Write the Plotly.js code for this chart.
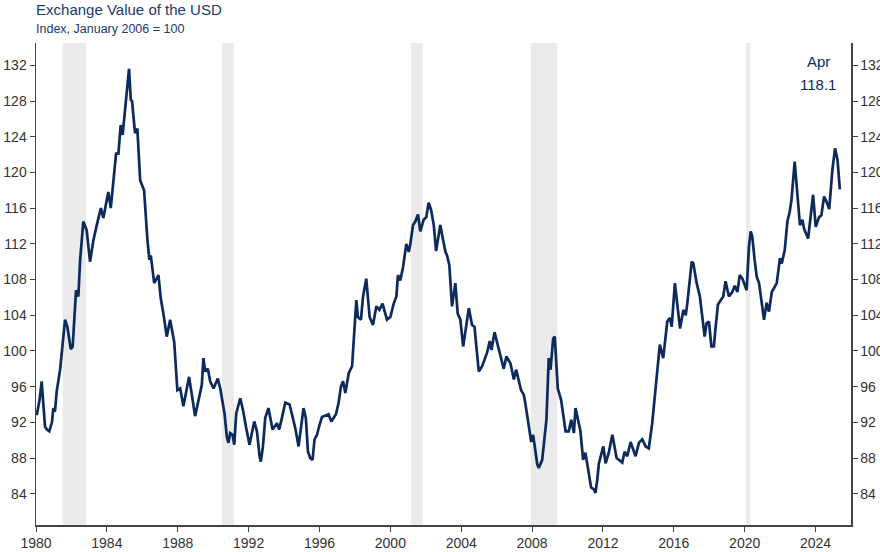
<!DOCTYPE html>
<html>
<head>
<meta charset="utf-8">
<script src="https://cdn.plot.ly/plotly-3.0.1.min.js"></script>
<style>
  html, body { margin: 0; padding: 0; background: #fff; }
  #chart { width: 880px; height: 552px; }
</style>
</head>
<body>
<div id="chart"></div>
<script>
// decimal year of each reading
var dates = [
  1980.04, 1980.20, 1980.32, 1980.51, 1980.62, 1980.75, 1980.90, 1980.98, 1981.07, 1981.17,
  1981.36, 1981.64, 1981.77, 1981.96, 1982.07, 1982.26, 1982.39, 1982.49, 1982.67, 1982.86,
  1983.05, 1983.24, 1983.43, 1983.66, 1983.80, 1983.90, 1984.08, 1984.22, 1984.37, 1984.52,
  1984.65, 1984.78, 1984.89, 1985.12, 1985.25, 1985.35, 1985.42, 1985.59, 1985.72, 1985.88,
  1986.10, 1986.29, 1986.40, 1986.48, 1986.67, 1986.91, 1987.04, 1987.19, 1987.38, 1987.57,
  1987.80, 1987.98, 1988.14, 1988.32, 1988.64, 1988.98, 1989.17, 1989.36, 1989.45, 1989.55,
  1989.70, 1989.83, 1990.02, 1990.26, 1990.40, 1990.64, 1990.77, 1990.86, 1990.96, 1991.09,
  1991.19, 1991.30, 1991.53, 1991.68, 1991.86, 1992.05, 1992.32, 1992.47, 1992.62, 1992.69,
  1992.81, 1992.94, 1993.12, 1993.35, 1993.60, 1993.73, 1993.88, 1994.07, 1994.31, 1994.44,
  1994.63, 1994.82, 1995.10, 1995.23, 1995.35, 1995.48, 1995.61, 1995.72, 1995.86, 1996.00,
  1996.14, 1996.51, 1996.67, 1996.93, 1997.08, 1997.21, 1997.33, 1997.46, 1997.65, 1997.84,
  1998.08, 1998.17, 1998.34, 1998.46, 1998.64, 1998.83, 1999.02, 1999.21, 1999.38, 1999.56,
  1999.81, 2000.00, 2000.19, 2000.34, 2000.43, 2000.56, 2000.72, 2000.90, 2001.04, 2001.13,
  2001.28, 2001.41, 2001.56, 2001.69, 2001.88, 2002.03, 2002.16, 2002.30, 2002.45, 2002.58,
  2002.82, 2002.98, 2003.11, 2003.20, 2003.33, 2003.48, 2003.67, 2003.80, 2003.95, 2004.11,
  2004.43, 2004.61, 2004.75, 2004.99, 2005.18, 2005.46, 2005.61, 2005.71, 2005.88, 2006.12,
  2006.40, 2006.55, 2006.78, 2006.97, 2007.10, 2007.38, 2007.53, 2007.63, 2007.95, 2008.06,
  2008.29, 2008.38, 2008.57, 2008.81, 2008.94, 2009.04, 2009.19, 2009.28, 2009.45, 2009.64,
  2009.89, 2010.07, 2010.21, 2010.36, 2010.45, 2010.73, 2010.88, 2011.01, 2011.20, 2011.33,
  2011.49, 2011.58, 2011.68, 2011.77, 2012.02, 2012.15, 2012.33, 2012.53, 2012.77, 2013.09,
  2013.22, 2013.37, 2013.56, 2013.84, 2014.03, 2014.22, 2014.41, 2014.59, 2014.78, 2014.97,
  2015.21, 2015.40, 2015.63, 2015.78, 2015.88, 2016.06, 2016.20, 2016.35, 2016.54, 2016.67,
  2016.76, 2017.01, 2017.10, 2017.29, 2017.47, 2017.61, 2017.74, 2017.85, 2017.98, 2018.12,
  2018.26, 2018.36, 2018.49, 2018.79, 2018.92, 2019.11, 2019.30, 2019.44, 2019.59, 2019.72,
  2019.87, 2020.11, 2020.24, 2020.34, 2020.43, 2020.56, 2020.68, 2020.81, 2020.94, 2021.09,
  2021.24, 2021.37, 2021.53, 2021.66, 2021.81, 2021.99, 2022.09, 2022.26, 2022.41, 2022.54,
  2022.64, 2022.82, 2022.98, 2023.12, 2023.26, 2023.35, 2023.58, 2023.73, 2023.86, 2024.01,
  2024.20, 2024.33, 2024.48, 2024.62, 2024.77, 2024.95, 2025.10, 2025.24, 2025.37
];

// USD index, Jan 2006 = 100
var usd_index = [
  92.8, 94.5, 96.6, 91.5, 91.2, 91.0, 92.0, 93.6, 93.2, 95.5,
  97.9, 103.5, 102.7, 100.2, 100.5, 106.8, 106.1, 110.2, 114.5, 113.5,
  110.0, 112.4, 114.1, 116.0, 114.9, 116.0, 117.8, 116.0, 118.8, 122.1,
  122.1, 125.3, 124.2, 128.5, 131.6, 128.1, 128.0, 124.4, 124.9, 119.1,
  118.0, 112.4, 110.2, 110.7, 107.6, 108.5, 105.9, 104.2, 101.6, 103.5,
  101.0, 95.6, 95.8, 93.8, 97.1, 92.7, 94.5, 96.2, 99.2, 97.7,
  98.0, 96.6, 95.8, 96.9, 95.8, 93.0, 90.4, 89.7, 90.8, 90.6,
  89.5, 93.0, 94.7, 93.4, 91.4, 89.5, 92.1, 91.0, 88.2, 87.6,
  89.3, 92.5, 93.6, 91.2, 91.9, 91.2, 92.5, 94.2, 94.0, 92.9,
  91.4, 89.3, 93.6, 92.5, 88.7, 88.0, 87.8, 90.1, 90.6, 91.7,
  92.6, 92.9, 92.1, 92.9, 94.2, 96.0, 96.6, 95.3, 97.5, 98.3,
  105.7, 103.8, 103.5, 106.1, 108.1, 103.8, 102.9, 105.0, 104.6, 105.3,
  103.5, 103.8, 105.3, 106.1, 108.5, 107.9, 109.4, 112.0, 111.1, 112.0,
  114.1, 114.5, 115.3, 113.4, 114.7, 115.0, 116.6, 115.8, 114.1, 111.2,
  114.1, 112.4, 111.1, 110.7, 109.6, 105.0, 107.6, 104.2, 103.5, 100.5,
  104.8, 102.9, 102.7, 97.7, 98.3, 99.8, 101.1, 100.1, 102.1, 100.2,
  98.0, 99.4, 98.6, 96.8, 97.9, 95.6, 95.1, 94.0, 89.8, 90.6,
  87.3, 86.9, 87.8, 92.3, 99.2, 97.9, 101.4, 101.6, 95.8, 94.5,
  91.0, 91.0, 92.3, 90.8, 93.6, 91.0, 87.8, 88.6, 86.5, 84.7,
  84.5, 84.1, 85.6, 87.4, 89.3, 87.4, 88.6, 90.6, 88.0, 87.5,
  88.7, 88.2, 89.8, 88.2, 89.7, 90.1, 89.3, 89.1, 91.9, 95.6,
  100.7, 99.2, 103.3, 103.7, 102.7, 107.6, 105.0, 102.5, 104.6, 104.0,
  105.3, 110.0, 109.8, 107.6, 106.1, 103.8, 101.6, 103.1, 103.3, 100.5,
  100.5, 102.7, 105.2, 106.1, 107.8, 106.1, 106.6, 107.3, 106.6, 108.5,
  108.1, 106.8, 111.7, 113.4, 112.8, 110.2, 108.3, 107.6, 105.7, 103.5,
  105.4, 104.4, 106.6, 107.0, 107.6, 110.4, 109.8, 111.3, 114.5, 115.6,
  116.9, 121.2, 117.8, 114.1, 114.7, 113.7, 112.6, 115.2, 117.5, 113.9,
  115.0, 115.2, 117.3, 116.7, 115.9, 120.3, 122.7, 121.4, 118.1
];

// recessions (decimal years)
var rec_start = [1981.50, 1990.50, 2001.17, 2007.92, 2020.08];
var rec_end   = [1982.83, 1991.17, 2001.83, 2009.42, 2020.33];

var x_ticks = [1980, 1984, 1988, 1992, 1996, 2000, 2004, 2008, 2012, 2016, 2020, 2024];
var y_ticks = [84, 88, 92, 96, 100, 104, 108, 112, 116, 120, 124, 128, 132];

var subtitle = "Index, January 2006 = 100";
var last_label = ["Apr", "118.1"];

const navy = "#0c2a5c";
const title_col = "#1b3a6e";
const axis_col = "#444444";
const y_range = [80.5, 134.5];

var shapes = rec_start.map(function(s, i)
{
	return {
		type: "rect",
		xref: "x",
		yref: "paper",
		x0: s,
		x1: rec_end[i],
		y0: 0,
		y1: 1,
		fillcolor: "#ebebeb",
		line: {width: 0},
		layer: "below"
	};
});

var line = {
	type: "scatter",
	mode: "lines",
	x: dates,
	y: usd_index,
	line: {color: navy, width: 2.7},
	hoverinfo: "skip"
};

// same series on the right axis, hidden, so the right ticks get drawn
var right_copy = {
	type: "scatter",
	mode: "lines",
	x: dates,
	y: usd_index,
	yaxis: "y2",
	line: {color: navy, width: 0},
	opacity: 0,
	hoverinfo: "skip"
};

var y_common = {
	range: y_range,
	tickvals: y_ticks,
	ticks: "outside",
	ticklen: 5,
	tickwidth: 1,
	tickcolor: axis_col,
	showline: true,
	linecolor: axis_col,
	linewidth: 1.5,
	showgrid: false,
	zeroline: false,
	tickfont: {size: 14, color: "#333333"}
};

var layout = {
	width: 880,
	height: 552,
	margin: {l: 36, r: 29, t: 43, b: 27},
	paper_bgcolor: "#ffffff",
	plot_bgcolor: "#ffffff",
	showlegend: false,
	font: {family: "Liberation Sans, Arial, sans-serif"},
	title: {
		text: "Exchange Value of the USD",
		xref: "container",
		yref: "container",
		x: 0.041,
		xanchor: "left",
		y: 0.982,
		yanchor: "middle",
		font: {size: 15, color: title_col}
	},
	xaxis: {
		range: [1980, 2026],
		tickvals: x_ticks,
		ticktext: x_ticks.map(String),
		ticks: "outside",
		ticklen: 5,
		tickcolor: axis_col,
		showline: true,
		linecolor: axis_col,
		linewidth: 1.5,
		showgrid: false,
		zeroline: false,
		tickfont: {size: 14, color: "#333333"}
	},
	yaxis: Object.assign({side: "left"}, y_common),
	yaxis2: Object.assign({side: "right", overlaying: "y"}, y_common),
	shapes: shapes,
	annotations: [
		{
			xref: "paper", yref: "paper",
			x: 0, y: 1.029,
			xanchor: "left", yanchor: "middle",
			borderpad: 0,
			xshift: -1,
			text: subtitle,
			showarrow: false,
			font: {size: 12.5, color: title_col}
		},
		{
			xref: "x", yref: "y",
			x: 2024.15, y: 132.4,
			text: last_label[0],
			showarrow: false,
			font: {size: 15, color: navy}
		},
		{
			xref: "x", yref: "y",
			x: 2024.15, y: 129.8,
			text: last_label[1],
			showarrow: false,
			font: {size: 15, color: navy}
		}
	]
};

Plotly.newPlot("chart", [line, right_copy], layout, {displayModeBar: false, staticPlot: true});
</script>
</body>
</html>
